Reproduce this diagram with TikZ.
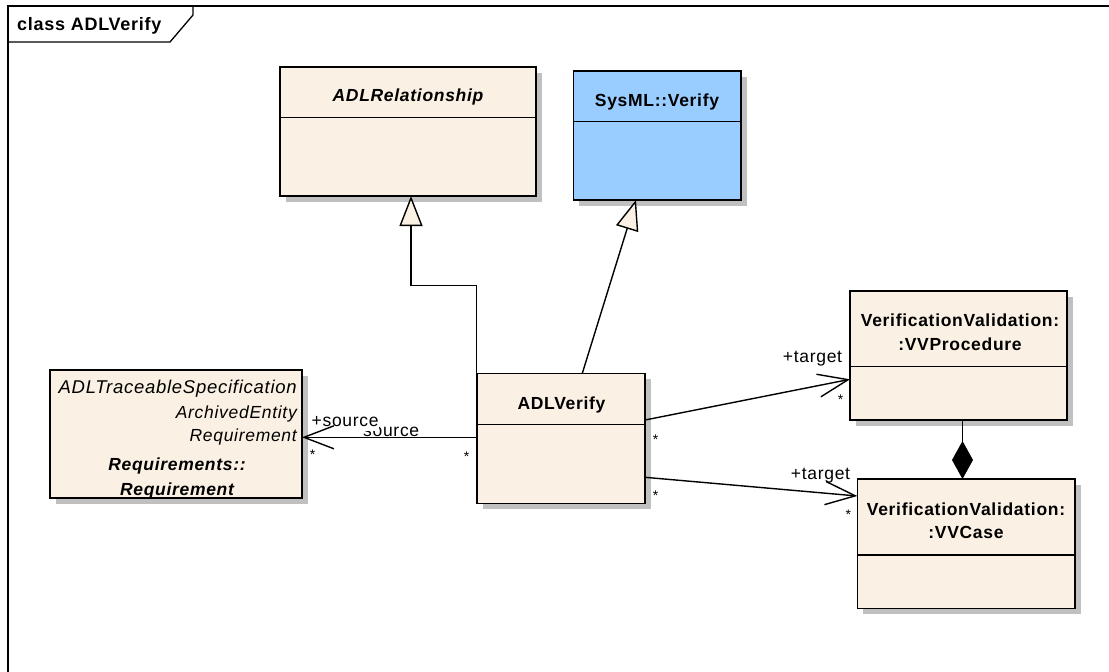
\documentclass[tikz,border=0pt]{standalone}
\usepackage{fontspec}
\setmainfont{Liberation Sans}[LetterSpace=4]
\usetikzlibrary{arrows.meta,shadows,calc}
\definecolor{cream}{RGB}{250,240,227}
\definecolor{sysblue}{RGB}{153,204,255}
\definecolor{shade}{RGB}{192,192,192}
\begin{document}
\begin{tikzpicture}[x=1pt,y=-1pt,
  cls/.style={draw=black, line width=1.6pt, fill=cream, anchor=north west, inner sep=0pt, outer sep=0pt,
    drop shadow={shadow xshift=6pt,shadow yshift=-6pt,fill=shade,opacity=1}},
  div/.style={line width=1.2pt},
  lbl/.style={font=\fontsize{17.5}{20}\selectfont, inner sep=0pt, anchor=base},
  star/.style={font=\fontsize{14}{16}\selectfont, inner sep=0pt, anchor=base},
  assoc/.style={line width=1.4pt, -{Straight Barb[length=30pt,width=23pt,line width=1.4pt]}},
  gen/.style={line width=1.4pt, -{Triangle[length=30pt,width=23pt,fill=cream,line width=1.4pt]}},
  comp/.style={line width=1.4pt, -{Diamond[length=38pt,width=21pt]}}
]
\useasboundingbox (0,0) rectangle (1109,672);
\fill[white] (0,0) rectangle (1109,672);

% frame
\draw[line width=1.5pt] (8,672) -- (8,6) -- (1109,6);
\draw[line width=1.3pt] (8,42) -- (170,42) -- (193,15) -- (193,6);
\node[anchor=base west, inner sep=0pt, font=\bfseries\fontsize{18}{21}\selectfont] (title) at (17,30) {class ADLVerify};

% classes
\node[cls, minimum width=256pt, minimum height=129.3pt] (adlr) at (280,66.7) {};
\draw[div] (adlr.west |- 0,117.3) -- (adlr.east |- 0,117.3);
\node[lbl] (adlrname) at (408,101.7) {\bfseries\itshape ADLRelationship};

\node[cls, fill=sysblue, minimum width=167.4pt, minimum height=129.3pt] (sysml) at (573.3,70.7) {};
\draw[div] (sysml.west |- 0,121.7) -- (sysml.east |- 0,121.7);
\node[lbl] (sysmlname) at (657,106.7) {\bfseries SysML::Verify};

\node[cls, minimum width=168.3pt, minimum height=130pt] (adlv) at (476.7,373.3) {};
\draw[div] (adlv.west |- 0,424.3) -- (adlv.east |- 0,424.3);
\node[lbl] (adlvname) at (561.5,409.3) {\bfseries ADLVerify};

\node[cls, minimum width=252pt, minimum height=128pt] (req) at (50,370) {};
\node[lbl, anchor=base east, font=\fontsize{18.5}{21}\selectfont] (req1) at (297,393) {\itshape ADLTraceableSpecification};
\node[lbl, anchor=base east] (req2) at (297,418) {\itshape ArchivedEntity};
\node[lbl, anchor=base east] (req3) at (297,441.7) {\itshape Requirement};
\node[lbl] (req4) at (177,470) {\bfseries\itshape Requirements::};
\node[lbl] (req5) at (177,495) {\bfseries\itshape Requirement};

\node[cls, minimum width=216.7pt, minimum height=129.3pt] (vvp) at (850,290.7) {};
\draw[div] (vvp.west |- 0,366.7) -- (vvp.east |- 0,366.7);
\node[lbl] (vvp1) at (960,326.7) {\bfseries VerificationValidation:};
\node[lbl] (vvp2) at (960,350) {\bfseries :VVProcedure};

\node[cls, minimum width=217.7pt, minimum height=129.3pt] (vvc) at (857.3,479) {};
\draw[div] (vvc.west |- 0,555) -- (vvc.east |- 0,555);
\node[lbl] (vvc1) at (966,515) {\bfseries VerificationValidation:};
\node[lbl] (vvc2) at (966,538.3) {\bfseries :VVCase};

% role labels
\node[lbl, anchor=base west] (src2) at (363,436) {source};
\node[lbl, anchor=base west, fill=white, inner sep=0.5pt, text depth=4pt] (src1) at (311,426) {+source};
\node[lbl, anchor=base west] (tgt1) at (782.7,362.7) {+target};
\node[lbl, anchor=base west] (tgt2) at (790.7,479) {+target};

% multiplicities
\node[star] (s1) at (312.7,459.7) {*};
\node[star] (s2) at (466.7,461) {*};
\node[star] (s3) at (655.7,444) {*};
\node[star] (s4) at (840.7,404) {*};
\node[star] (s5) at (655.7,500.7) {*};
\node[star] (s6) at (848.3,519.7) {*};

% connectors
\draw[gen] (adlv.north west) |- (411,285.7) -- (411,0 |- adlr.south);
\draw[gen] (582.3,0 |- adlv.north) -- (636,0 |- sysml.south);
\draw[assoc] (adlv.west |- 0,437.3) -- (req.east |- 0,437.3);
\draw[assoc] (adlv.east |- 0,420) -- (vvp.west |- 0,379.3);
\draw[assoc] (adlv.east |- 0,477.3) -- (vvc.west |- 0,496);
\draw[comp] (962.5,0 |- vvp.south) -- (962.5,0 |- vvc.north);
\end{tikzpicture}
\end{document}
